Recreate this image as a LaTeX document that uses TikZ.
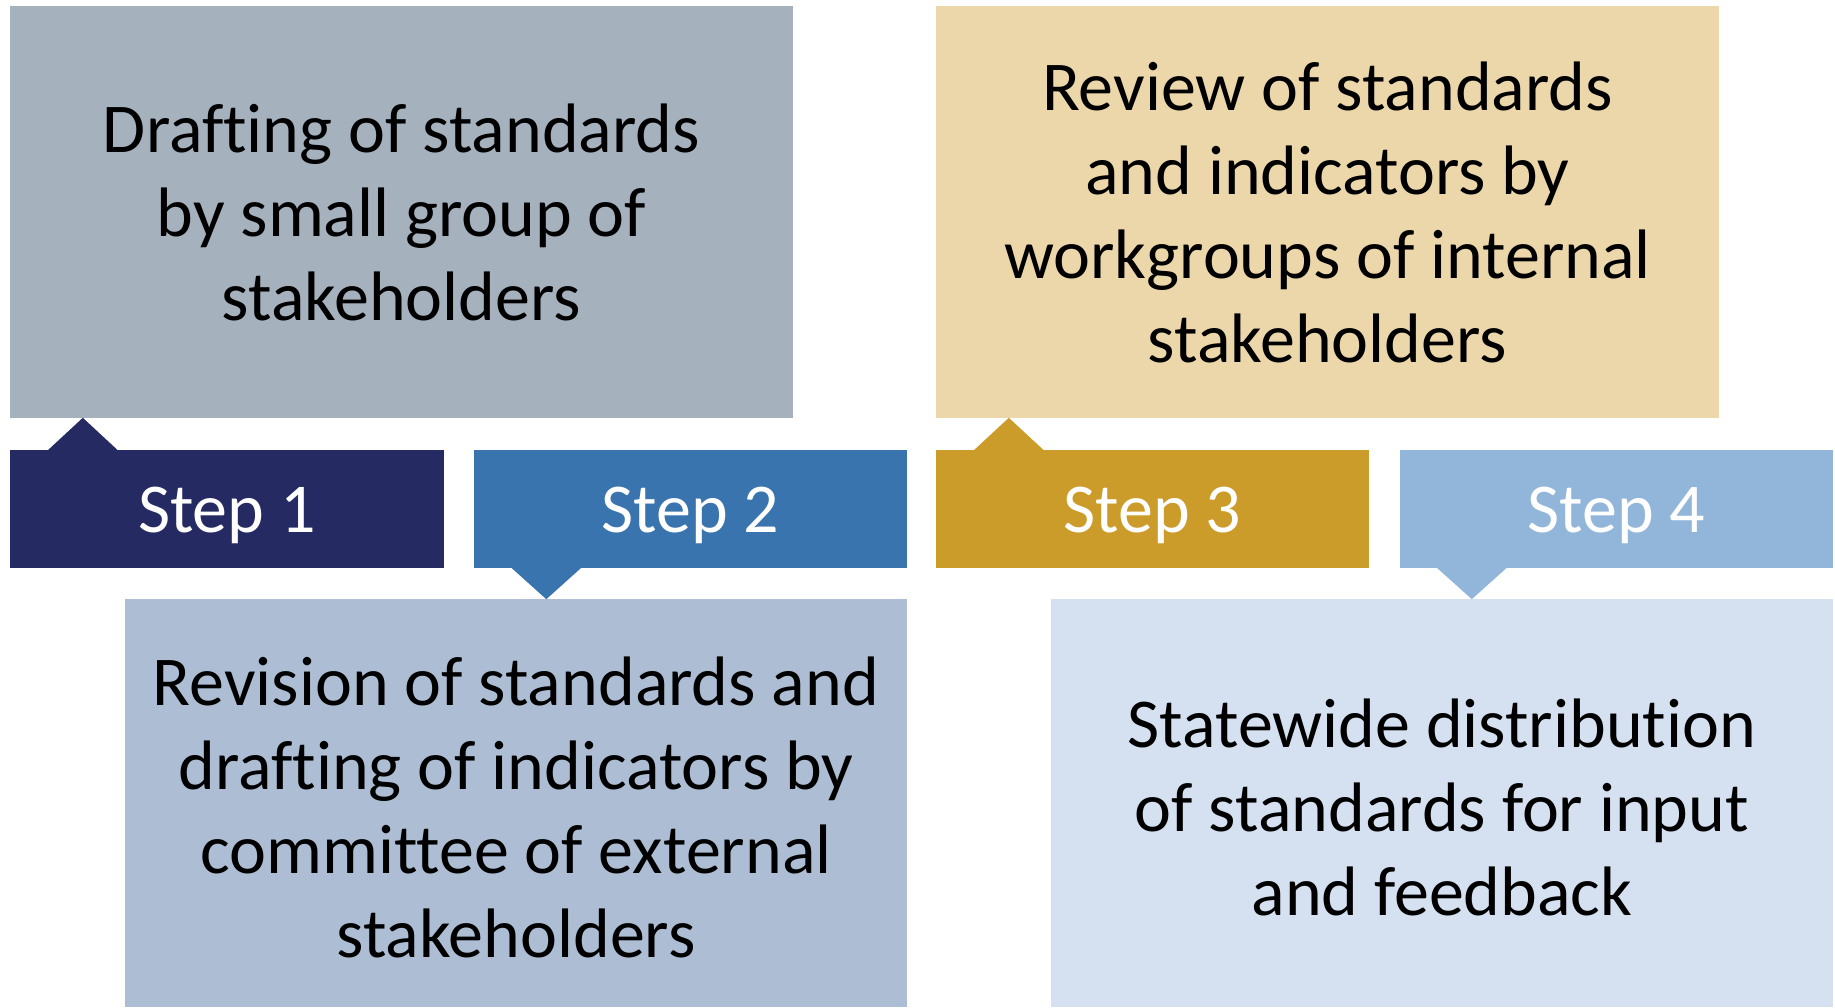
\documentclass[tikz,border=0pt]{standalone}
\usepackage{fontspec}
\setmainfont[Ligatures=NoCommon]{Carlito}
\definecolor{cgray}{HTML}{A6B1BE}
\definecolor{ctan}{HTML}{ECD7AA}
\definecolor{cone}{HTML}{262A62}
\definecolor{ctwo}{HTML}{3A74AE}
\definecolor{cthree}{HTML}{CC9C2A}
\definecolor{cfour}{HTML}{92B6DA}
\definecolor{crev}{HTML}{ADBED4}
\definecolor{cstate}{HTML}{D5E1F0}
\tikzset{
  bigbox/.style={rectangle, inner sep=0pt},
  bigtext/.style={inner sep=0pt, align=center, text=black,
    font=\fontsize{70}{84}\selectfont},
  stepbox/.style={rectangle, inner sep=0pt, minimum width=433pt, minimum height=118pt,
    text=white, font=\fontsize{70}{84}\selectfont},
}
\newcommand{\steplabel}[1]{\raisebox{-6pt}[\height][\depth]{#1}}
\begin{document}
\begin{tikzpicture}[x=1pt,y=-1pt]
\useasboundingbox (0,0) rectangle (1835,1008);
% top boxes
\node[bigbox, fill=cgray, minimum width=783pt, minimum height=412pt] (draft) at (401.5,212) {};
\node[bigtext] (drafttext) at (draft.center)
  {Drafting of standards\\by small group of\\stakeholders};
\node[bigbox, fill=ctan, minimum width=783pt, minimum height=412pt] (review) at (1327.5,212) {};
\node[bigtext] (reviewtext) at (review.center)
  {Review of standards\\and indicators by\\workgroups of internal\\stakeholders};
% bottom boxes
\node[bigbox, fill=crev, minimum width=782pt, minimum height=408pt] (revision) at (516,803) {};
\node[bigtext] (revisiontext) at ([yshift=-4pt]revision.center)
  {Revision of standards and\\drafting of indicators by\\committee of external\\stakeholders};
\node[bigbox, fill=cstate, minimum width=782pt, minimum height=408pt] (state) at (1442,803) {};
\node[bigtext] (statetext) at ([yshift=-4pt]state.center)
  {Statewide distribution\\of standards for input\\and feedback};
% steps
\node[stepbox, fill=cone, minimum width=434pt] (s1) at (227,509) {\steplabel{Step 1}};
\node[stepbox, fill=ctwo] (s2) at (690.5,509) {\steplabel{Step 2}};
\node[stepbox, fill=cthree] (s3) at (1152.5,509) {\steplabel{Step 3}};
\node[stepbox, fill=cfour] (s4) at (1616.5,509) {\steplabel{Step 4}};
% pointers
\fill[cone] ([xshift=38.5pt]s1.north west) -- ++(34.5,-32) -- ++(34.5,32) -- cycle;
\fill[ctwo] ([xshift=38pt]s2.south west) -- ++(34.5,31) -- ++(34.5,-31) -- cycle;
\fill[cthree] ([xshift=38.5pt]s3.north west) -- ++(34.5,-32) -- ++(34.5,32) -- cycle;
\fill[cfour] ([xshift=37.5pt]s4.south west) -- ++(34.5,31) -- ++(34.5,-31) -- cycle;
\end{tikzpicture}
\end{document}
